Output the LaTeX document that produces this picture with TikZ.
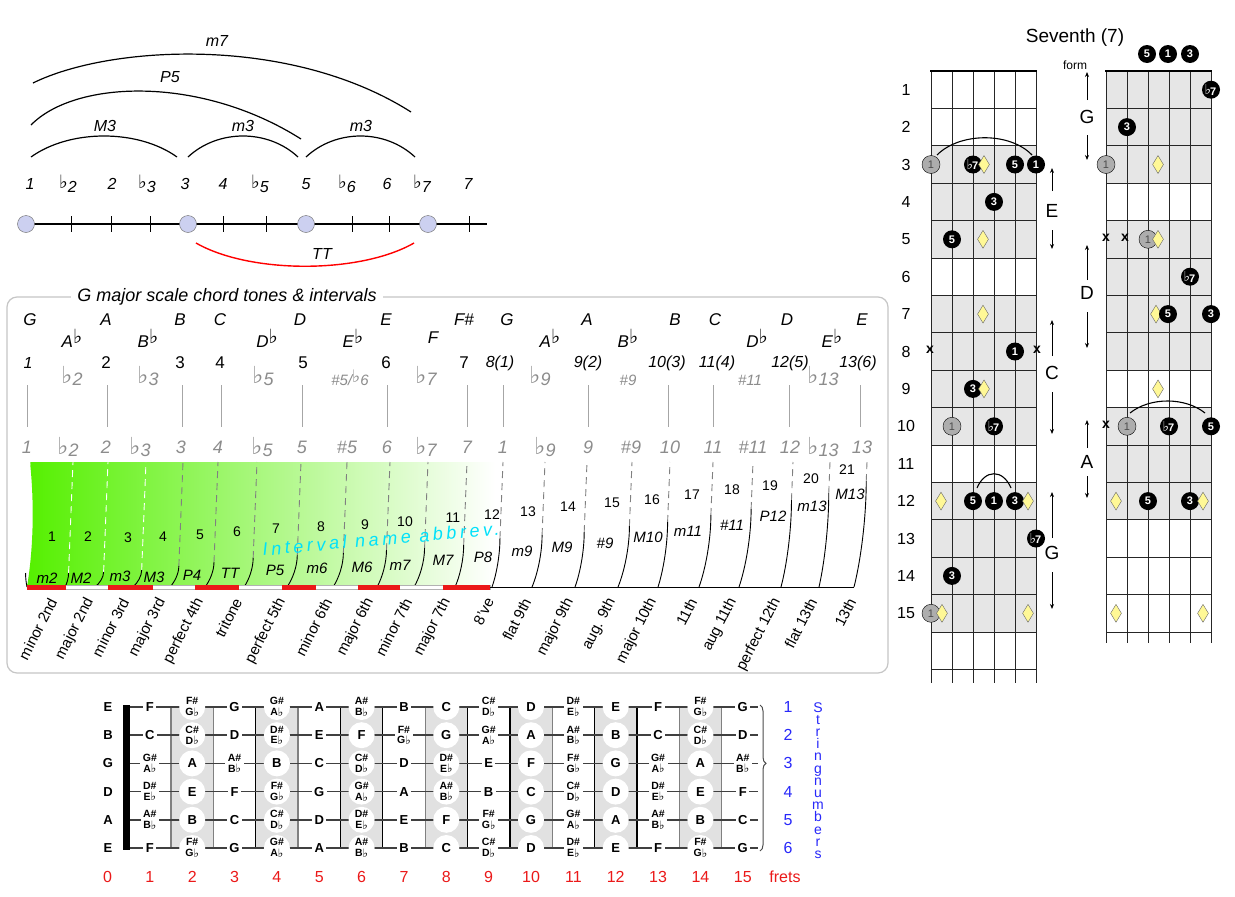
\documentclass[tikz,border=0pt]{standalone}
\usepackage{fontspec}
\usepackage{graphicx}
\setmainfont{Liberation Sans}
\newfontfamily\symf{DejaVu Sans}
\newfontfamily\spcf[LetterSpace=20]{Liberation Sans}
\usetikzlibrary{arrows.meta,shapes.geometric,decorations.pathreplacing}
\definecolor{grn}{RGB}{85,240,0}
\definecolor{gtxt}{RGB}{140,140,140}
\definecolor{fred}{RGB}{235,25,25}
\definecolor{sblu}{RGB}{40,40,250}
\definecolor{cyn}{RGB}{0,225,250}
\definecolor{lav}{RGB}{204,208,240}
\definecolor{bandc}{RGB}{225,225,225}
\definecolor{shd}{RGB}{230,230,230}
\definecolor{dmdc}{RGB}{255,248,150}
\newcommand\fsz[1]{\fontsize{#1}{#1}\selectfont}
\newcommand\myfl{\raisebox{.22em}{\scalebox{1.15}{\symf ♭}}}
\newcommand\gfl{\raisebox{.12em}{\scalebox{1.3}{\symf ♭}}}
\newcommand\flb{\raisebox{-.05em}{\scalebox{1.1}{\symf ♭}}}
\newcommand\fsev{\kern-1pt\raisebox{.05em}{\scalebox{1.25}{\symf ♭}}\kern-1pt 7}
\newcommand\shfl[2]{{\fsz{10.5}\shortstack{#1\#\\#2\flb}}}
\newcommand\chrn[1]{\ifcase#1 C\or\shfl{C}{D}\or D\or\shfl{D}{E}\or E\or F\or\shfl{F}{G}\or G\or\shfl{G}{A}\or A\or\shfl{A}{B}\or B\fi}
\tikzset{
 lavdot/.style={circle, draw=gray!85!black, fill=lav, minimum size=17pt, inner sep=0pt},
 itl/.style={font=\fsz{16}\itshape, inner sep=1pt},
 bdot/.style={circle, fill=black, text=white, minimum size=18pt, inner sep=0pt, font=\bfseries\fsz{11}},
 gdot/.style={circle, draw=black, fill=black!32, text=black!70, minimum size=18pt, inner sep=0pt, font=\fsz{11}},
 ydmd/.style={diamond, draw=gray!80!black, fill=dmdc, minimum width=11pt, minimum height=18pt, inner sep=0pt},
 xmk/.style={font=\bfseries\fsz{14}, inner sep=0pt},
 arr/.style={-{Stealth[length=5pt,width=4pt]}, line width=0.8pt},
 fbn/.style={font=\bfseries\fsz{13}, inner sep=1pt},
 lettr/.style={font=\fsz{19}, inner sep=1pt},
}
\begin{document}
\begin{tikzpicture}[x=1pt,y=-1pt]
\useasboundingbox (0,0) rectangle (1235,897);
\fill[white] (0,0) rectangle (1235,897);

%% ---------- top-left interval line ----------
\draw[line width=1.2pt] (26,224) -- (487,224);
\foreach \x in {71,111,150,223,266,352,389,469} \draw[line width=0.9pt] (\x,216) -- (\x,232);
\node[lavdot] (c1) at (26,224) {};
\node[lavdot] (c3) at (188,224) {};
\node[lavdot] (c5) at (306,224) {};
\node[lavdot] (c7) at (428,224) {};
\foreach \x/\tx [count=\ii] in {30/1, 68/{\myfl2}, 112/2, 147/{\myfl3}, 185/3, 223/4, 260/{\myfl5}, 306/5, 347/{\myfl6}, 387/6, 422/{\myfl7}, 468/7}
  \node[itl] (dg\ii) at (\x,184) {\tx};
\draw[line width=1.2pt] (31,157) .. controls (70,129) and (138,129) .. (177,157);
\draw[line width=1.2pt] (188,157) .. controls (218,129) and (268,129) .. (298,157);
\draw[line width=1.2pt] (306,157) .. controls (336,129) and (385,129) .. (415,157);
\draw[line width=1.2pt] (31,125) .. controls (75,80) and (200,75) .. (301,139);
\draw[line width=1.2pt] (33,83) .. controls (110,45) and (290,35) .. (411,112);
\draw[red, line width=1.4pt] (196,243) .. controls (250,274) and (360,274) .. (414,243);
\node[itl] (lm7) at (217,41) {m7};
\node[itl] (lp5) at (170,77) {P5};
\node[itl] (lM3) at (105,126) {M3};
\node[itl] (lm3a) at (243,126) {m3};
\node[itl] (lm3b) at (361,126) {m3};
\node[itl] (lTT) at (322,254) {TT};

%% ---------- G major panel ----------
\draw[gray!45, line width=1.2pt, rounded corners=10pt] (7,297) rectangle (888,673);
\node[fill=white, font=\fsz{18}\itshape, inner xsep=6pt, inner ysep=1pt] (ttl) at (227,297) {G major scale chord tones \& intervals};

\foreach \x/\tx [count=\ii] in {30/G,106/A,180/B,220/C,300/D,386/E,464/F\#,507/G,587/A,675/B,715/C,787/D,862/E}
  \node[font=\fsz{17}\itshape, inner sep=1pt] (nt\ii) at (\x,320) {\tx};
\foreach \x/\tx [count=\ii] in {72/A,148/B,267/D,353/E,550/A,628/B,757/D,832/E}
  \node[font=\fsz{17}\itshape, inner sep=1pt] (nf\ii) at (\x,338) {\tx\myfl};
\node[font=\fsz{17}\itshape, inner sep=1pt] (nF) at (433,338) {F};

\node[font=\fsz{16}\itshape, inner sep=1pt] (deg1) at (28,363) {1};
\foreach \x/\tx [count=\ii from 2] in {106/2,180/3,220/4,303/5,386/6,464/7}
  \node[font=\fsz{17}, inner sep=1pt] (deg\ii) at (\x,363) {\tx};
\foreach \x/\tx [count=\ii from 8] in {500/8(1),588/9(2),667/10(3),717/11(4),790/12(5),858/13(6)}
  \node[font=\fsz{16}\itshape, inner sep=1pt] (deg\ii) at (\x,363) {\tx};

\foreach \x/\tx [count=\ii] in {72/{\gfl2}, 148/{\gfl3}, 263/{\gfl5}, 426/{\gfl7}, 540/{\gfl9}, 823/{\gfl13}}
  \node[font=\fsz{18}\itshape, text=gtxt, inner sep=1pt] (ga\ii) at (\x,376) {\tx};
\node[font=\fsz{15}\itshape, text=gtxt, inner sep=1pt] (ga7) at (350,378) {\#5/\myfl6};
\node[font=\fsz{15}\itshape, text=gtxt, inner sep=1pt] (ga8) at (628,380) {\#9};
\node[font=\fsz{15}\itshape, text=gtxt, inner sep=1pt] (ga9) at (750,380) {\#11};

\foreach \x in {27,107,182,221,302,387,467,503,588,668,713,789,860}
  \draw[gray!70, line width=0.9pt] (\x,385) -- (\x,427);

\foreach \x/\tx [count=\ii] in {27/1, 68/{\gfl2}, 106/2, 140/{\gfl3}, 181/3, 218/4, 262/{\gfl5}, 302/5, 347/\#5, 387/6, 426/{\gfl7}, 467/7, 503/1, 545/{\gfl9}, 588/9, 631/\#9, 670/10, 713/11, 753/\#11, 790/12, 823/{\gfl13}, 862/13}
  \node[font=\fsz{18}\itshape, text=gtxt, inner sep=1pt] (gb\ii) at (\x,447) {\tx};

% green gradient
\shade[left color=grn, middle color=grn!30, right color=white] (27,587) .. controls (34,545) and (34,500) .. (30,462) -- (495,462) -- (495,587) -- cycle;

% dividers
\foreach \bx/\tx/\sx [count=\kk from 0] in {27/30/573, 65/73/573, 95/108/572, 133/146/570, 170/183/566, 205/218/562, 244/257/558, 287/301/555, 333/347/553, 377/390/550, 414/428/548, 455/467/545, 492/503/538, 532/545/535, 575/587/532, 618/632/526, 658/670/522, 699/713/515, 739/753/509, 781/793/500, 819/830/493, 854/867/481} {
  \pgfmathsetmacro\tp{\tx-0.04*(\sx-462)}
  \ifnum\kk<4 \def\dc{white}\else\def\dc{gray}\fi
  \draw[color=\dc, line width=0.9pt, dash pattern=on 7pt off 5pt] (\tp,\sx) -- (\tx,462);
  \draw[line width=0.9pt] (\bx,587) .. controls ({\bx+0.55*(\tp-\bx)},{587-0.25*(587-\sx)}) and (\tp,{\sx+0.35*(587-\sx)}) .. (\tp,\sx);
}

% baseline bar
\draw[gray!60, fill=white, line width=0.6pt] (27,585) rectangle (490,589.5);
\foreach \ax/\bx in {27/66,108/153,195/239,282/316,358/400,443/490}
  \fill[fred] (\ax,585) rectangle (\bx,589.5);
\draw[line width=0.9pt] (490,587) -- (854,587);

% interval numbers
\foreach \x/\y [count=\ii] in {52/537, 88/537, 128/538, 163/537, 200/535, 237/532, 276/529, 321/527, 365/525, 405/522, 453/518, 492/515, 528/512, 568/507, 612/503, 652/500, 692/495, 732/490, 770/486, 811/479, 847/470}
  \node[font=\fsz{14}, inner sep=1pt] (iv\ii) at (\x,\y) {\ii};

% abbreviations
\foreach \x/\y/\tx [count=\ii] in {47/578/m2, 81/578/M2, 120/576/m3, 154/577/M3, 192/575/P4, 230/573/TT, 275/570/P5, 317/568/m6, 362/567/M6, 400/565/m7, 443/560/M7, 483/557/P8, 522/551/m9, 562/547/M9, 605/543/\#9, 648/537/M10, 688/531/m11, 732/525/\#11, 773/516/P12, 812/506/m13, 850/494/M13}
  \node[font=\fsz{15}\itshape, inner sep=0.5pt] (ab\ii) at (\x,\y) {\tx};

\node[font=\spcf\fsz{18}\itshape, text=cyn, rotate=5, inner sep=0pt] (ina) at (381,539) {Interval name abbrev.};

% full names
\foreach \x/\tx [count=\ii] in {53/minor 2nd, 90/major 2nd, 125/minor 3rd, 162/major 3rd, 200/perfect 4th, 238/tritone, 282/perfect 5th, 328/minor 6th, 370/major 6th, 408/minor 7th, 447/major 7th, 490/8've, 527/flat 9th, 570/major 9th, 612/aug. 9th, 653/major 10th, 693/11th, 733/aug 11th, 777/perfect 12th, 813/flat 13th, 852/13th}
  \node[rotate=63, anchor=east, font=\fsz{15}, inner sep=0pt] (fn\ii) at (\x,599) {\tx};

%% ---------- bottom fretboard ----------
\foreach \fn in {2,4,...,14}
  \fill[bandc] ({128.7+42.35*(\fn-1)},707) rectangle ({128.7+42.35*\fn},848);
\foreach \fn/\cc in {1/gray,2/gray,3/black,4/gray,5/black,6/black,7/gray,8/black,9/black,10/gray,11/black,12/black,13/gray,14/gray}
  \draw[color=\cc, line width=1.3pt] ({128.7+42.35*\fn},707) -- ({128.7+42.35*\fn},848);
\foreach \rr in {0,...,5}
  \draw[black!75, line width=1.5pt] (127,{707+28.2*\rr}) -- (758,{707+28.2*\rr});
\fill (123,705) rectangle (129.5,850);
\foreach \sn/\op [count=\rr from 0] in {E/4,B/11,G/7,D/2,A/9,E/4} {
  \pgfmathsetmacro\yy{707+28.2*\rr}
  \node[fbn] (os\rr) at (108,\yy) {\sn};
  \foreach \fn in {1,...,15} {
    \pgfmathtruncatemacro\idx{mod(\op+\fn,12)}
    \ifodd\fn\relax
      \node[fbn, fill=white, inner sep=2.5pt] (f\rr-\fn) at ({107.5+42.35*\fn},\yy) {\chrn{\idx}};
    \else
      \node[fbn, fill=white, circle, minimum size=26pt, inner sep=0pt] (f\rr-\fn) at ({107.5+42.35*\fn},\yy) {\chrn{\idx}};
    \fi
  }
}
\draw[decorate, decoration={brace, amplitude=6pt, aspect=0.4}, line width=1pt, black!70] (760,705) -- (760,851);
\foreach \fn in {0,...,15}
  \node[font=\fsz{16}, text=fred, inner sep=1pt] (fr\fn) at ({107.5+42.35*\fn},877) {\fn};
\node[font=\fsz{16}, text=fred, inner sep=1pt] (frets) at (785,877) {frets};
\foreach \rr in {1,...,6}
  \node[font=\fsz{16}, text=sblu, inner sep=1pt] (sn\rr) at (788,{707+28.2*(\rr-1)}) {\rr};
\foreach \cc [count=\ii from 0] in {S,t,r,i,n,g,n,u,m,b,e,r,s}
  \node[font=\fsz{14}, text=sblu, inner sep=0pt, anchor=base] (vs\ii) at (818,{712+12.2*\ii}) {\cc};

%% ---------- right chord fretboards ----------
\node[font=\fsz{19}, inner sep=1pt] (sev) at (1075,38) {Seventh (7)};
\node[font=\fsz{12}, inner sep=1pt] (form) at (1075,65) {form};
% shading left
\fill[shd] (931,{71+37.4*2}) rectangle (1036,{71+37.4*5});
\fill[shd] (931,{71+37.4*6}) rectangle (1036,{71+37.4*10});
\fill[shd] (931,{71+37.4*11}) rectangle (1036,{71+37.4*15});
% shading right
\fill[shd] (1106,71) rectangle (1211,{71+37.4*3});
\fill[shd] (1106,{71+37.4*4}) rectangle (1211,{71+37.4*8});
\fill[shd] (1106,{71+37.4*9}) rectangle (1211,{71+37.4*12});
% grids
\foreach \ii in {0,...,5} {
  \draw[black!85, line width=0.7pt] ({931+21*\ii},71) -- ({931+21*\ii},683);
  \draw[black!85, line width=0.7pt] ({1106+21*\ii},71) -- ({1106+21*\ii},643);
}
\foreach \kk in {1,...,16} \draw[black!85, line width=0.7pt] (931,{71+37.4*\kk}) -- (1036,{71+37.4*\kk});
\foreach \kk in {1,...,15} \draw[black!85, line width=0.7pt] (1106,{71+37.4*\kk}) -- (1211,{71+37.4*\kk});
\draw[line width=2.5pt] (930,71) -- (1037,71);
\draw[line width=2.5pt] (1105,71) -- (1212,71);
\foreach \fn in {1,...,15}
  \node[font=\fsz{16}, inner sep=1pt] (rf\fn) at (906,{52.3+37.4*\fn}) {\fn};

% top dots
\node[bdot] (t5) at (1147,54) {5};
\node[bdot] (t1) at (1168,54) {1};
\node[bdot] (t3) at (1190,54) {3};

% arcs
\draw[line width=1.1pt] (937,155) .. controls (960,132) and (1010,132) .. (1032,155);
\draw[line width=1.1pt] (977,488) .. controls (985,469) and (1003,469) .. (1011,488);
\draw[line width=1.1pt] (1130,413) .. controls (1150,397) and (1185,397) .. (1205,413);

% right board diamond behind circle (row 7)
\node[ydmd] (rd7) at (1156,{52.3+37.4*7}) {};

% gray dots
\foreach \x/\rr [count=\ii] in {931/3, 952/10, 931/15, 1106/3, 1148/5, 1127/10}
  \node[gdot] (gd\ii) at (\x,{52.3+37.4*\rr}) {1};
% black dots
\foreach \x/\rr/\tx [count=\ii] in {973/3/{\fsev}, 1015/3/5, 1036/3/1, 994/4/3, 952/5/5, 1015/8/1, 973/9/3, 994/10/{\fsev}, 973/12/5, 994/12/1, 1015/12/3, 1036/13/{\fsev}, 952/14/3, 1211/1/{\fsev}, 1127/2/3, 1190/6/{\fsev}, 1168/7/5, 1211/7/3, 1169/10/{\fsev}, 1211/10/5, 1148/12/5, 1190/12/3}
  \node[bdot] (bd\ii) at (\x,{52.3+37.4*\rr}) {\tx};
% diamonds
\foreach \x/\rr [count=\ii] in {984/3, 983/5, 983/7, 984/9, 941/12, 1028/12, 942/15, 1028/15, 1158/3, 1158/5, 1158/9, 1116/12, 1203/12, 1116/15, 1203/15}
  \node[ydmd] (dm\ii) at (\x,{52.3+37.4*\rr}) {};
% x marks
\foreach \x/\rr [count=\ii] in {930/8, 1037/8, 1106/5, 1125/5, 1106/10}
  \node[xmk] (xm\ii) at (\x,{51+37.4*\rr}) {x};

% form letters and arrows
\node[lettr] (LG1) at (1087,117) {G};
\draw[arr] (1087,100) -- (1087,72);
\draw[arr] (1087,135) -- (1087,160);
\node[lettr] (LE) at (1052,211) {E};
\draw[arr] (1052,191) -- (1052,168);
\draw[arr] (1052,230) -- (1052,249);
\node[lettr] (LD) at (1087,293) {D};
\draw[arr] (1087,280) -- (1087,245);
\draw[arr] (1087,312) -- (1087,348);
\node[lettr] (LC) at (1052,373) {C};
\draw[arr] (1052,356) -- (1052,320);
\draw[arr] (1052,392) -- (1052,434);
\node[lettr] (LA) at (1087,462) {A};
\draw[arr] (1087,448) -- (1087,420);
\draw[arr] (1087,476) -- (1087,498);
\node[lettr] (LG2) at (1052,553) {G};
\draw[arr] (1052,538) -- (1052,492);
\draw[arr] (1052,572) -- (1052,609);
\end{tikzpicture}
\end{document}
